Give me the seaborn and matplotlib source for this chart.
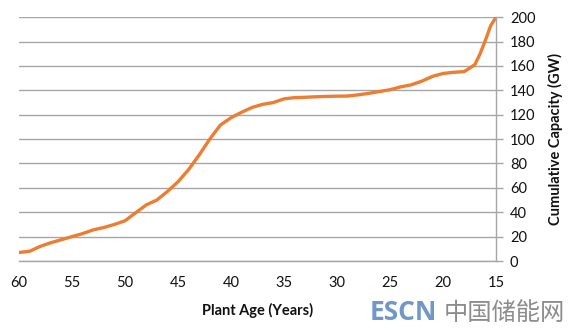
import matplotlib
matplotlib.use("Agg")
import matplotlib.pyplot as plt
import seaborn as sns
import pandas as pd

plant_age = [60, 59, 58, 57, 56, 55, 54, 53, 52, 51, 50, 49, 48, 47, 46, 45, 44, 43,
             42, 41, 40, 39, 38, 37, 36, 35, 34, 33, 32, 31, 30, 29, 28, 27, 26, 25,
             24, 23, 22, 21, 20, 19, 18, 17, 16.5, 16, 15.5, 15]
capacity_gw = [7, 8, 12, 15, 17.5, 20, 22.5, 25.5, 27.5, 30, 33, 39.5, 46, 50, 57, 65, 75, 87,
               100, 111.5, 117.5, 122, 126, 128.5, 130, 133, 134, 134.3, 134.7, 135, 135.2, 135.3,
               136.3, 137.5, 139, 140.5, 142.8, 144.5, 147.5, 151.4, 153.8, 154.8, 155.3, 161,
               170, 181, 193, 200]
x_ticks = [60, 55, 50, 45, 40, 35, 30, 25, 20, 15]
y_ticks = [0, 20, 40, 60, 80, 100, 120, 140, 160, 180, 200]

sns.set_theme(style="white")
plt.rcParams['font.family'] = ['Lato', 'DejaVu Sans']

df = pd.DataFrame({"age": plant_age, "cap": capacity_gw})

fig = plt.figure(figsize=(5.75, 3.3), dpi=100)
ax = fig.add_axes([0.033, 0.209, 0.8296, 0.739])

sns.lineplot(data=df, x="age", y="cap", ax=ax, color="#ED7D31", linewidth=2.4)
ax.lines[0].set_solid_joinstyle("round")
ax.lines[0].set_solid_capstyle("round")

ax.set_xlim(60, 15)
ax.set_ylim(0, 200)
ax.set_xticks(x_ticks)
ax.set_yticks(y_ticks)
ax.yaxis.tick_right()
ax.yaxis.set_label_position("right")
ax.grid(axis="y", color="#A6A6A6", linewidth=1.0)
ax.grid(axis="x", visible=False)
for s in ["top", "left"]:
    ax.spines[s].set_visible(False)
for s in ["right", "bottom"]:
    ax.spines[s].set_color("#A6A6A6")
    ax.spines[s].set_linewidth(1.0)
ax.tick_params(axis="x", which="major", direction="out", length=5, width=1,
               color="#A6A6A6", labelsize=10.5, labelcolor="#111111", pad=6)
ax.tick_params(axis="y", which="major", direction="out", length=5, width=1,
               color="#A6A6A6", labelsize=10.5, labelcolor="#111111", pad=5)
ax.set_xlabel("Plant Age (Years)", fontsize=10.5, fontweight="bold", color="#111111", labelpad=9)
ax.set_ylabel("Cumulative Capacity (GW)", fontsize=10.5, fontweight="bold", color="#111111", labelpad=9)

fig.text(0.642, 0.052, "ESCN", fontsize=19, fontweight="bold", color="#7097C8",
         family=["Open Sans", "DejaVu Sans"], va="center", ha="left")
fig.text(0.772, 0.052, "中国储能网", fontsize=17.5, fontweight="medium", color="#8C8C8C",
         family=["Noto Sans CJK SC", "DejaVu Sans"], va="center", ha="left")

fig.savefig("out.png", dpi=100)
